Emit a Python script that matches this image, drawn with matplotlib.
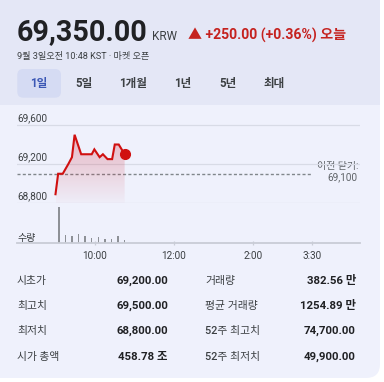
import matplotlib
matplotlib.use("Agg")
import matplotlib.pyplot as plt
import numpy as np
from matplotlib.patches import FancyBboxPatch, Rectangle

# ---------------- data ----------------
price_times = [0, 4, 11, 19.5, 25, 29, 39, 55, 59, 67, 72, 79, 86, 90, 96, 105]  # minutes after 9:00
price_values = [68890, 69100, 69100, 69200, 69270, 69500, 69300, 69300, 69350,
                69270, 69300, 69250, 69250, 69400, 69400, 69300]
vol_times = [5, 15, 25, 35, 45, 55, 65, 75, 85, 95, 105]
vol_values = [140, 32, 30, 35, 28, 21, 24, 16, 17, 27, 12]  # 만 shares
prev_close = 69100
y_ticks = [68800, 69200, 69600]
y_tick_labels = ["68,800", "69,200", "69,600"]
x_ticks = [60, 180, 300, 390]
x_tick_labels = ["10:00", "12:00", "2:00", "3:30"]
tabs = ["1일", "5일", "1개월", "1년", "5년", "최대"]
stats_left = [("시초가", "69,200.00"), ("최고치", "69,500.00"), ("최저치", "68,800.00"), ("시가 총액", "458.78 조")]
stats_right = [("거래량", "382.56 만"), ("평균 거래량", "1254.89 만"), ("52주 최고치", "74,700.00"), ("52주 최저치", "49,900.00")]

# ---------------- styles ----------------
W, H = 384, 382
FONT = ["Roboto", "Noto Sans CJK KR", "DejaVu Sans"]
KFONT = ["Noto Sans CJK KR", "DejaVu Sans"]
plt.rcParams['font.family'] = FONT
HEADER_BG = "#e4e7f6"
BODY_BG = "#eff1fc"
RED = "#c5221f"
LINE_RED = "#d01010"
DARK = "#202124"
MID = "#3c4043"
GRAY = "#5f6368"
GRID = "#d8dbe6"

fig = plt.figure(figsize=(W / 100, H / 100), dpi=100)
fig.patch.set_facecolor("white")

bg = fig.add_axes([0, 0, 1, 1])
bg.set_xlim(0, W)
bg.set_ylim(H, 0)
bg.axis("off")

card = FancyBboxPatch((-40, -40), 420, 418, boxstyle="round,pad=0,rounding_size=14",
                      facecolor=BODY_BG, edgecolor="none")
bg.add_patch(card)
hdr = Rectangle((-40, -40), 440, 145, facecolor=HEADER_BG, edgecolor="none")
bg.add_patch(hdr)
hdr.set_clip_path(card)

# header text
bg.text(16.5, 40, "69,350.00", fontsize=20.7, fontweight="bold", color=DARK, va="baseline", ha="left")
bg.text(152, 40, "KRW", fontsize=8.5, color=MID, va="baseline", ha="left")
bg.text(188, 40, "▲ +250.00 (+0.36%) 오늘", fontsize=10.1, fontweight="bold", color=RED,
        va="baseline", ha="left", family=FONT)
bg.text(17, 59, "9월 3일오전 10:48 KST · 마켓 오픈", fontsize=6.6, color=MID, va="baseline", ha="left",
        family=FONT)

# tabs
tab_x = [39, 84, 133, 183, 228, 274]
hl = FancyBboxPatch((17.3, 69), 43.7, 28.7, boxstyle="round,pad=0,rounding_size=6",
                    facecolor="#d5dbf3", edgecolor="none")
bg.add_patch(hl)
for i, (t, x) in enumerate(zip(tabs, tab_x)):
    bg.text(x, 83.5, t, fontsize=8.3, fontweight="bold", color="#3b57b5" if i == 0 else MID,
            ha="center", va="center", family=FONT)

# ---------------- chart ----------------
px = 0.6585  # pixels per minute
x0 = 55.5    # pixel of 9:00
ax_l, ax_r = 17, 360
xlim = ((ax_l - x0) / px, (ax_r - x0) / px)

def fig_rect(l, t, r, b):
    return [l / W, 1 - b / H, (r - l) / W, (b - t) / H]

# price axes: 68,800 at y=203, 69,600 at y=125
ppp = 400 / 39.0
p_top = 110
ylim = (68800, 68800 + (203 - p_top) * ppp)
ax = fig.add_axes(fig_rect(ax_l, p_top, ax_r, 203))
ax.axis("off")
ax.patch.set_alpha(0)
for yt in y_ticks:
    ax.axhline(yt, color=GRID, lw=0.9, zorder=1)
ax.plot([xlim[0], 390], [prev_close, prev_close], color="#80868b", lw=1.0,
        dashes=(2.2, 1.6), zorder=2)
ax.plot(price_times, price_values, color=LINE_RED, lw=1.5, zorder=4, solid_joinstyle="miter")
ax.plot([price_times[-1]], [price_values[-1]], "o", color=LINE_RED, ms=7, zorder=5)
# gradient fill
fb = ax.fill_between(price_times, price_values, 68800, color="none", lw=0)
grad = np.linspace(0.28, 0.02, 256).reshape(-1, 1)
rgba = np.zeros((256, 1, 4))
rgba[..., 0] = 0.82
rgba[..., 1] = 0.12
rgba[..., 2] = 0.18
rgba[..., 3] = grad
im = ax.imshow(rgba, extent=[price_times[0], price_times[-1], 68800, max(price_values)],
               aspect="auto", origin="upper", zorder=3)
path = fb.get_paths()[0]
im.set_clip_path(path, transform=ax.transData)
ax.set_xlim(*xlim)
ax.set_ylim(*ylim)

# y labels
for yt, lab in zip(y_ticks, y_tick_labels):
    ypix = 203 - (yt - 68800) / ppp
    bg.text(17, ypix - 4, lab, fontsize=7.2, color=MID, ha="left", va="baseline")
bg.text(358, 166.5, "이전 닫기:", fontsize=7.2, color=GRAY, ha="right", va="center", family=FONT)
bg.text(358, 177.7, "69,100", fontsize=7.2, color=GRAY, ha="right", va="center")

# volume axes
axv = fig.add_axes(fig_rect(ax_l, 203, ax_r, 243.3))
axv.set_xlim(*xlim)
axv.set_ylim(0, 156)
axv.patch.set_alpha(0)
for s in ["top", "left", "right"]:
    axv.spines[s].set_visible(False)
axv.spines["bottom"].set_color("#c9ccd6")
axv.spines["bottom"].set_linewidth(1.3)
axv.bar(vol_times, vol_values, width=2.3, color="#8d9096", zorder=2)
axv.set_yticks([])
axv.set_xticks(x_ticks)
axv.set_xticklabels(x_tick_labels)
axv.tick_params(axis="x", length=3.5, width=0.9, color="#c9ccd6", labelsize=7.2,
                labelcolor=MID, pad=4, direction="inout")
bg.text(17, 238, "수량", fontsize=7.2, color=MID, ha="left", va="center", family=KFONT)

# ---------------- stats ----------------
row_y = [280.7, 305.7, 331, 356.7]
for (lab, val), y in zip(stats_left, row_y):
    bg.text(17, y, lab, fontsize=7.8, color=MID, fontweight="medium", ha="left", va="center",
            family=KFONT)
    bg.text(168, y, val, fontsize=8.2, color=DARK, fontweight="bold", ha="right", va="center",
            family=FONT)
for (lab, val), y in zip(stats_right, row_y):
    bg.text(205, y, lab, fontsize=7.8, color=MID, fontweight="medium", ha="left", va="center",
            family=FONT)
    bg.text(356, y, val, fontsize=8.2, color=DARK, fontweight="bold", ha="right", va="center",
            family=FONT)

fig.savefig("out.png", dpi=100)
